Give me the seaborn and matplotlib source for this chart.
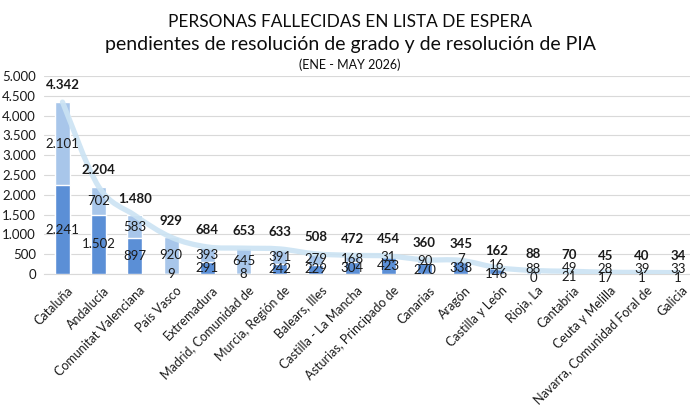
import numpy as np
import pandas as pd
import matplotlib
matplotlib.use("Agg")
import matplotlib.pyplot as plt
from matplotlib.path import Path
from matplotlib.patches import PathPatch
from matplotlib.ticker import FuncFormatter
from matplotlib.transforms import ScaledTranslation
import seaborn as sns

regions = ["Cataluña", "Andalucía", "Comunitat Valenciana", "País Vasco", "Extremadura",
           "Madrid, Comunidad de", "Murcia, Región de", "Balears, Illes", "Castilla - La Mancha",
           "Asturias, Principado de", "Canarias", "Aragón", "Castilla y León", "Rioja, La",
           "Cantabria", "Ceuta y Melilla", "Navarra, Comunidad Foral de", "Galicia"]
grado = [2241, 1502, 897, 9, 291, 8, 242, 229, 304, 423, 270, 338, 146, 0, 21, 17, 1, 1]
pia = [2101, 702, 583, 920, 393, 645, 391, 279, 168, 31, 90, 7, 16, 88, 49, 28, 39, 33]
totals = [4342, 2204, 1480, 929, 684, 653, 633, 508, 472, 454, 360, 345, 162, 88, 70, 45, 40, 34]
yticks = [0, 500, 1000, 1500, 2000, 2500, 3000, 3500, 4000, 4500, 5000]

title1 = "PERSONAS FALLECIDAS EN LISTA DE ESPERA"
title2 = "pendientes de resolución de grado y de resolución de PIA"
title3 = "(ENE - MAY 2026)"

sns.set_theme(style="white")
plt.rcParams["font.family"] = ["Lato", "DejaVu Sans"]

DARK = "#5b8fd6"
LIGHT = "#a8c6ea"
LINE = "#cbe3f3"
TXT = "#1a1a1a"

df = pd.DataFrame({"region": regions, "grado": grado, "pia": pia, "total": totals})

W, H = 690, 407
fig = plt.figure(figsize=(W / 100, H / 100), dpi=100)
left_px, right_px = 44.4, 44.4 + 18 * 36.2
ax = fig.add_axes([left_px / W, (H - 274) / H, (right_px - left_px) / W, (274 - 76) / H])

sns.barplot(data=df, x="region", y="total", color=LIGHT, width=0.41, saturation=1,
            ax=ax, zorder=2)
sns.barplot(data=df, x="region", y="grado", color=DARK, width=0.41, saturation=1,
            ax=ax, zorder=3)

# smooth line through totals (cubic Bezier, Catmull-Rom tangents)
xs = np.arange(len(totals), dtype=float)
ys = np.array(totals, dtype=float)
verts = [(xs[0], ys[0])]
codes = [Path.MOVETO]
n = len(xs)
for i in range(n - 1):
    p0 = np.array([xs[max(i - 1, 0)], ys[max(i - 1, 0)]])
    p1 = np.array([xs[i], ys[i]])
    p2 = np.array([xs[i + 1], ys[i + 1]])
    p3 = np.array([xs[min(i + 2, n - 1)], ys[min(i + 2, n - 1)]])
    c1 = p1 + (p2 - p0) / 6.0
    c2 = p2 - (p3 - p1) / 6.0
    verts += [tuple(c1), tuple(c2), tuple(p2)]
    codes += [Path.CURVE4] * 3
ax.add_patch(PathPatch(Path(verts, codes), facecolor="none", edgecolor=LINE,
                       lw=3.8, alpha=0.9, zorder=4, capstyle="round"))

fmt = lambda v: f"{v:,.0f}".replace(",", ".")

for i in range(n):
    b, t = grado[i], pia[i]
    ty = b + t / 2.0
    by = b / 2.0
    if ty - by < 230:
        mid = (ty + by) / 2.0
        ty, by = mid + 115, mid - 115
    ax.text(i, ty, fmt(t), ha="center", va="center", fontsize=9.5, color=TXT, zorder=6)
    ax.text(i, by, fmt(b), ha="center", va="center", fontsize=9.5, color=TXT, zorder=6)
    ax.annotate(fmt(totals[i]), (i, totals[i]), xytext=(0, 12), textcoords="offset points",
                ha="center", va="center", fontsize=9.5, fontweight="bold", color=TXT, zorder=6)

ax.set_xlim(-0.5, 17.5)
ax.set_ylim(0, 5000)
ax.set_yticks(yticks)
ax.yaxis.set_major_formatter(FuncFormatter(lambda v, p: fmt(v)))
ax.grid(axis="y", color="#d9d9d9", lw=0.8, zorder=0)
ax.set_axisbelow(True)
for s in ["top", "right", "left"]:
    ax.spines[s].set_visible(False)
ax.spines["bottom"].set_color("#d9d9d9")
ax.spines["bottom"].set_linewidth(0.8)
ax.spines["bottom"].set_zorder(1)
ax.set_xlabel("")
ax.set_ylabel("")
ax.tick_params(axis="y", length=0, labelsize=9.5, labelcolor="#1a1a1a", pad=6)
ax.tick_params(axis="x", length=0, labelsize=9, labelcolor="#1a1a1a", pad=3)
ax.set_xticks(range(n))
ax.set_xticklabels(regions, rotation=45, ha="right", rotation_mode="anchor")
shift = ScaledTranslation(4 / 100, -6 / 100, fig.dpi_scale_trans)
for lab in ax.get_xticklabels():
    lab.set_transform(lab.get_transform() + shift)

fig.text(350 / W, 1 - 27 / H, title1, ha="center", va="baseline", fontsize=12.4, color="#0d0d0d")
fig.text(351 / W, 1 - 50 / H, title2, ha="center", va="baseline", fontsize=14, color="#0d0d0d")
fig.text(350 / W, 1 - 69 / H, title3, ha="center", va="baseline", fontsize=9, color="#0d0d0d")

fig.savefig("out.png", dpi=100)
